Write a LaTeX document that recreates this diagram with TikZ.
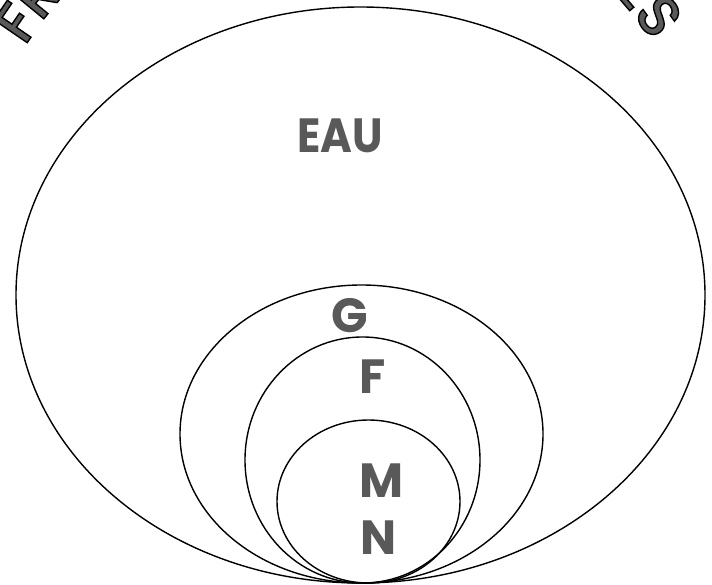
\documentclass[tikz,border=0pt]{standalone}
\usepackage{fontspec}
\setmainfont{Poppins}
\newfontfamily\arcfont{Poppins Medium}
\usetikzlibrary{shapes.geometric}
\definecolor{lblgray}{HTML}{595959}
% outlined letters: fill gray, stroke black
\newcommand{\outl}[1]{\special{pdf:literal direct 2 Tr 1.4 w 0 G}#1\special{pdf:literal direct 0 Tr}}
\tikzset{
  set/.style={draw, ellipse, line width=1.4pt, inner sep=0pt},
  setlabel/.style={font=\fontsize{48}{48}\selectfont\bfseries, text=lblgray, inner sep=0pt},
  arcletter/.style={font=\arcfont\fontsize{58}{58}\selectfont, text=lblgray, inner sep=0pt},
}
\begin{document}
\begin{tikzpicture}[x=1pt, y=1pt]
  \useasboundingbox (0,0) rectangle (712,-585);
  % title on the arc, cut by the frame
  \begin{scope}
    \clip (0,0) rectangle (712,-585);
    \foreach \ch [count=\i from 0] in {F,R,O,N,T,I,È,R,E,S,{},E,T,{},E,N,S,E,M,B,L,E,S} {
      \pgfmathsetmacro{\ang}{145.6-\i*5.0}
      \node[arcletter, rotate=\ang-90] (t\i) at ({340+392*cos(\ang)},{-244+392*sin(\ang)}) {\outl{\ch}};
    }
  \end{scope}
  % nested sets
  \node[set, minimum width=689pt, minimum height=576pt] (eau) at (360.5,-295) {};
  \node[set, minimum width=363pt, minimum height=298pt] (setg) at (361.5,-434) {};
  \node[set, minimum width=235pt, minimum height=246pt] (setf) at (362.5,-460) {};
  \node[set, minimum width=183pt, minimum height=163pt] (setm) at (368.5,-501.5) {};
  % labels
  \node[setlabel, xscale=0.9] (leau) at (340,-136) {EAU};
  \node[setlabel] (lg) at (350,-316) {G};
  \node[setlabel] (lf) at (373,-377) {F};
  \node[setlabel] (lm) at (382,-481) {M};
  \node[setlabel] (ln) at (379,-538) {N};
\end{tikzpicture}
\end{document}
